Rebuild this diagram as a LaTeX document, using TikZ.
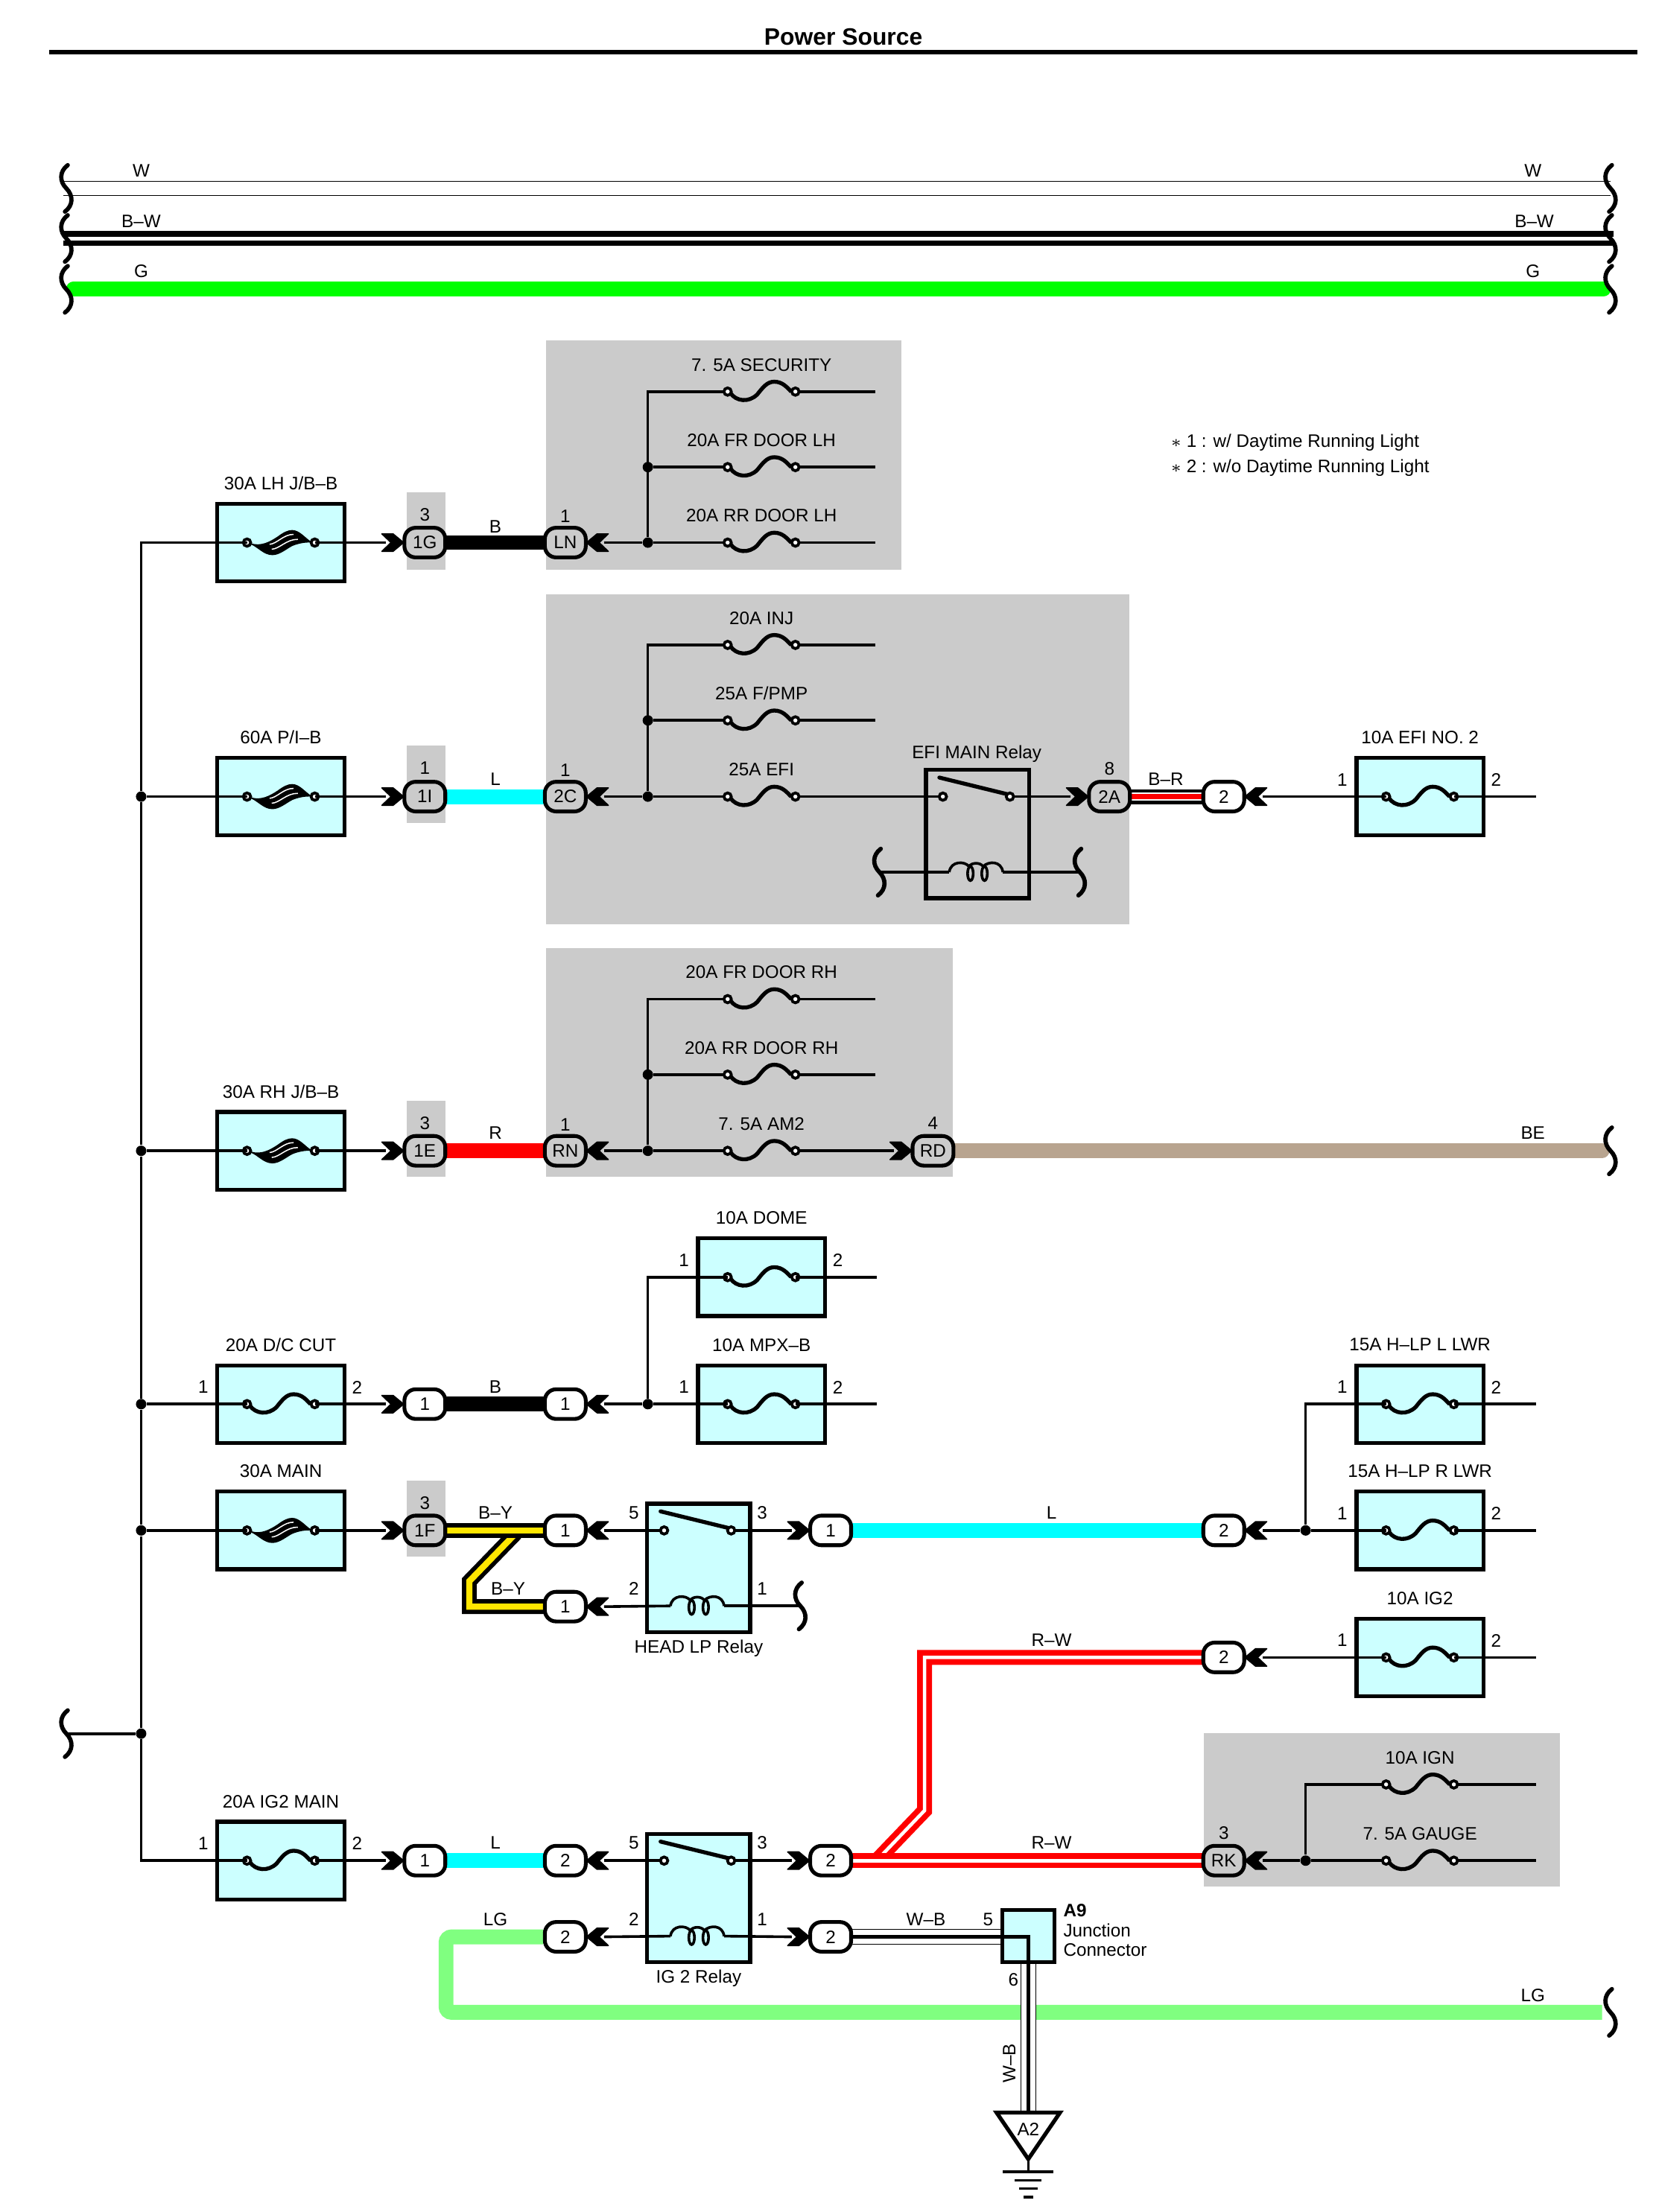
\documentclass[tikz,border=0pt]{standalone}
\usepackage{fontspec}
\setmainfont{Liberation Sans}
\pgfdeclarelayer{under}
\pgfsetlayers{under,main}
\definecolor{panelgray}{HTML}{CBCBCB}
\definecolor{boxblue}{HTML}{CCFFFF}
\definecolor{wiretan}{HTML}{B8A48F}
\definecolor{wirelg}{HTML}{80FF80}
\definecolor{wirecyan}{HTML}{00FFFF}
\definecolor{wiregreen}{HTML}{00FF00}
\definecolor{wirered}{HTML}{FF0000}
\definecolor{wireyellow}{HTML}{FFE600}
\tikzset{
  lbl/.style={font=\fontsize{6.4}{7.4}\selectfont,inner sep=0pt},
  titlelbl/.style={font=\fontsize{8.4}{10}\selectfont\bfseries,inner sep=0pt},
  wire/.style={line width=0.95pt,black},
  hvy/.style={line width=5.25pt,shorten <=-1pt,shorten >=-1pt},
  wireW/.style={draw=black,line width=5.4pt,shorten <=-1pt,postaction={draw=white,line width=4.8pt}},
  wireBW/.style={draw=black,hvy,postaction={draw=white,line width=1.4pt}},
  wireBY/.style={draw=black,hvy,postaction={draw=wireyellow,line width=2.2pt}},
  wireBR/.style={draw=black,hvy,postaction={draw=white,line width=2.7pt},postaction={draw=wirered,line width=1.7pt}},
  wireRW/.style={draw=wirered,hvy,postaction={draw=white,line width=1.2pt}},
  wireWB/.style={draw=black,line width=5.4pt,postaction={draw=white,line width=4.9pt},postaction={draw=black,line width=1.3pt}},
  fusebox/.style={draw,line width=1.4pt,fill=boxblue,minimum width=45pt,minimum height=27.5pt,inner sep=0pt},
  relaybox/.style={draw,line width=1.4pt,minimum width=36.5pt,minimum height=45.5pt,inner sep=0pt},
  plug/.style={draw,line width=1.35pt,rounded corners=4pt,minimum width=14.5pt,minimum height=10.5pt,inner sep=0pt,font=\fontsize{6.4}{7.4}\selectfont},
  dot/.style={circle,fill=black,inner sep=0pt,minimum size=3.7pt},
  fuse/.pic={
    \coordinate (-l) at (-24,0);
    \coordinate (-r) at (24,0);
    \draw[line width=1.4pt] (-22,1) .. controls (-18,7) and (-9,8) .. (-3,2) .. controls (1,-3) and (4,-7) .. (9,-7) .. controls (15,-7) and (18,-3) .. (21,0);
    \draw[line width=1pt,fill=white] (-24,0) circle [radius=2.6] (24,0) circle [radius=2.6];
  },
  link/.pic={
    \coordinate (-l) at (-24,0);
    \coordinate (-r) at (24,0);
    \filldraw[line width=0.4pt] (-21,1) .. controls (-14,3) and (-8,0) .. (-2,-4) .. controls (2,-7) and (5,-8.5) .. (8,-8.5) .. controls (13,-8.5) and (17,-3) .. (21,-0.5) .. controls (17,-0.5) and (13,0) .. (8,2) .. controls (4,4) and (-1,8.5) .. (-6,8.5) .. controls (-12,8.5) and (-16,3) .. (-21,1) -- cycle;
    \draw[white,line width=0.4pt] (-8,1.2) .. controls (-3,1) and (2,-6) .. (9,-5.8);
    \draw[white,line width=0.4pt] (-6.5,4.7) .. controls (-1,4.5) and (4,-2.5) .. (12,-2.3);
    \draw[line width=1pt,fill=white] (-24,0) circle [radius=2.6] (24,0) circle [radius=2.6];
  },
  chevr/.pic={
    \coordinate (-t) at (-13,0);
    \filldraw[line width=0.4pt,line join=round] (-16,-6.2) -- (-8,-6.2) -- (-0.5,0) -- (-8,6.2) -- (-16,6.2) -- (-9.5,0) -- cycle;
  },
  brk/.pic={
    \draw[line width=1.5pt,line cap=round] (1,-16.5) .. controls (-5,-12) and (-5,-5) .. (0,0) .. controls (5,5) and (5,12) .. (-1,16.5);
  },
  relayin/.pic={
    \coordinate (-a) at (-24.5,-26.5);
    \coordinate (-b) at (23,-26.5);
    \coordinate (-p) at (-20,27);
    \coordinate (-q) at (18,27);
    \draw[line width=1.4pt,line cap=round] (-27,-40) -- (22,-28);
    \draw[line width=1pt,fill=white] (-24.5,-26.5) circle [radius=2.6] (23,-26.5) circle [radius=2.6];
    \draw[line width=0.95pt] (-20,27) .. controls (-19,19) and (-9,19) .. (-6,23) .. controls (-4,20) and (2,20) .. (4,23) .. controls (8,19) and (17,19) .. (18,27);
    \draw[line width=0.95pt] (-5,28) ellipse [x radius=2,y radius=5];
    \draw[line width=0.95pt] (5,28) ellipse [x radius=2,y radius=5];
  },
}
\begin{document}
\begin{tikzpicture}[x=0.5pt,y=-0.5pt]
\useasboundingbox (0,0) rectangle (1175,1567.5);
\node[titlelbl] (title) at (597.5,26) {Power Source};
\draw[line width=1.5pt] (35,37) -- (1160,37);

\begin{pgfonlayer}{under}
\foreach \xa/\ya/\xb/\yb in {387/241/638.5/403.5, 387/421/800/655, 387/672/675/834, 853/1228/1105/1337, 288/349/315.5/403.5, 288/528.5/315.5/583, 288/780/315.5/834, 288/1049/315.5/1103}
  \fill[panelgray] (\xa,\ya) rectangle (\xb,\yb);
\foreach \n/\x/\y/\txt in {a/199/384.5/{30A LH J/B–B}, b/199/564.5/{60A P/I–B}, c/199/815.5/{30A RH J/B–B}, e/199/1084.5/{30A MAIN}}{
  \node[fusebox] (fb\n) at (\x,\y) {};
  \node[lbl] (ft\n) at (\x,{\y-42}) {\txt};
  \pic (fz\n) at (\x,\y) {link};
}
\foreach \n/\x/\y/\txt in {d/199/995/{20A D/C CUT}, f/199/1318.5/{20A IG2 MAIN}, g/539.5/905/{10A DOME}, h/539.5/995/{10A MPX–B}, i/1006/564.5/{10A EFI NO. 2}, j/1006/995/{15A H–LP L LWR}, k/1006/1084.5/{15A H–LP R LWR}, l/1006/1174.5/{10A IG2}}{
  \node[fusebox] (fb\n) at (\x,\y) {};
  \node[lbl] (ft\n) at (\x,{\y-42}) {\txt};
  \node[lbl] (fpa\n) at ({\x-55},{\y-12}) {1};
  \node[lbl] (fpb\n) at ({\x+54},{\y-12}) {2};
  \pic (fz\n) at (\x,\y) {fuse};
}
\node[relaybox] (ra) at (692.5,591) {};
\node[relaybox,fill=boxblue] (rb) at (495,1111) {};
\node[relaybox,fill=boxblue] (rc) at (495,1345) {};
\node[fusebox,minimum width=18.5pt,minimum height=18.5pt] (jc) at (728.5,1372) {};
\end{pgfonlayer}

\pic (rya) at (ra) {relayin};
\pic (ryb) at (rb) {relayin};
\pic (ryc) at (rc) {relayin};

\foreach \n/\x/\y/\txt in {pa/539.5/277.5/{7. 5A SECURITY}, pb/539.5/331/{20A FR DOOR LH}, pc/539.5/384.5/{20A RR DOOR LH}, pd/539.5/457/{20A INJ}, pe/539.5/510.5/{25A F/PMP}, pf/539.5/564.5/{25A EFI}, pg/539.5/708/{20A FR DOOR RH}, ph/539.5/761.5/{20A RR DOOR RH}, pi/539.5/815.5/{7. 5A AM2}, pj/1006/1264.5/{10A IGN}, pk/1006/1318.5/{7. 5A GAUGE}}{
  \node[lbl] (ft\n) at (\x,{\y-19}) {\txt};
  \pic (fz\n) at (\x,\y) {fuse};
}

\foreach \n/\x/\y/\txt/\s/\col in {gg/301/384.5/1G/1/panelgray, ln/400.5/384.5/LN/-1/panelgray, ii/301/564.5/1I/1/panelgray, cc/400.5/564.5/2C/-1/panelgray, aa/786/564.5/2A/1/panelgray, ee/301/815.5/1E/1/panelgray, rn/400.5/815.5/RN/-1/panelgray, rd/661/815.5/RD/1/panelgray, ff/301/1084.5/1F/1/panelgray, rk/867/1318.5/RK/-1/panelgray, br/867/564.5/2/-1/white, da/301/995/1/1/white, db/400.5/995/1/-1/white, ma/400.5/1084.5/1/-1/white, mb/400.5/1138.5/1/-1/white, ha/588.5/1084.5/1/1/white, hb/867/1084.5/2/-1/white, wa/867/1174.5/2/-1/white, sa/301/1318.5/1/1/white, sb/400.5/1318.5/2/-1/white, sc/588.5/1318.5/2/1/white, ta/400.5/1372.5/2/-1/white, tb/588.5/1372.5/2/1/white}{
  \node[plug,fill=\col] (\n) at (\x,\y) {\txt};
  \pic[xscale=\s] (ch\n) at ({\x-\s*14.5},\y) {chevr};
}

\node[dot] (va) at (100,564.5) {};
\node[dot] (vb) at (100,815.5) {};
\node[dot] (vc) at (100,995) {};
\node[dot] (vd) at (100,1084.5) {};
\node[dot] (ve) at (100,1228.5) {};
\node[dot] (ja) at (459,384.5) {};
\node[dot] (jb) at (459,331) {};
\node[dot] (jcc) at (459,564.5) {};
\node[dot] (jd) at (459,510.5) {};
\node[dot] (je) at (459,815.5) {};
\node[dot] (jf) at (459,761.5) {};
\node[dot] (jg) at (459,995) {};
\node[dot] (jh) at (925,1084.5) {};
\node[dot] (ji) at (925,1318.5) {};

\foreach \n/\y in {w/133.5,k/169,g/205}{
  \coordinate (busl\n) at (47,\y);
  \coordinate (busr\n) at (1141,\y);
  \pic at (busl\n) {brk};
  \pic at (busr\n) {brk};
}
\coordinate (lbot) at (47,1228.5);
\pic at (lbot) {brk};
\coordinate (rbe) at (1141,815.5);
\pic at (rbe) {brk};
\coordinate (rlg) at (1141,1426);
\pic at (rlg) {brk};
\coordinate (cla) at (623,618);
\pic at (cla) {brk};
\coordinate (clb) at (765,618);
\pic at (clb) {brk};
\coordinate (clc) at (567,1138);
\pic at (clc) {brk};

\begin{pgfonlayer}{under}
\draw[wireW] (buslw) -- (busrw);
\draw[wireBW] (buslk) -- (busrk);
\draw[wiregreen,line width=5.25pt,line cap=round] ([xshift=2.5]buslg) -- ([xshift=-2.5]busrg);
\draw[wire] (fza-l) -| (va);
\draw[wire] (va) -- (vb) -- (vc) -- (vd) -- (ve);
\draw[wire] (ve) |- (fzf-l);
\draw[wire] (lbot) -- (ve);
\draw[wire] (va) -- (fzb-l);
\draw[wire] (vb) -- (fzc-l);
\draw[wire] (vc) -- (fzd-l);
\draw[wire] (vd) -- (fze-l);
\draw[wire] (fza-r) -- (chgg-t);
\draw[wire] (fzb-r) -- (chii-t);
\draw[wire] (fzc-r) -- (chee-t);
\draw[wire] (fzd-r) -- (chda-t);
\draw[wire] (fze-r) -- (chff-t);
\draw[wire] (fzf-r) -- (chsa-t);
\draw[black,hvy] (gg.east) -- (ln.west);
\draw[wirecyan,hvy] (ii.east) -- (cc.west);
\draw[wirered,hvy] (ee.east) -- (rn.west);
\draw[black,hvy] (da.east) -- (db.west);
\draw[wirecyan,hvy] (sa.east) -- (sb.west);
\draw[wirecyan,hvy] (ha.east) -- (hb.west);
\draw[wiretan,line width=5.25pt,line cap=round] (rd.east) -- ([xshift=-3]rbe);
\draw[wireBR] (aa.east) -- (br.west);
\coordinate (bya) at (364,1088);
\coordinate (byb) at (332.5,1120.5);
\draw[wireBY] (bya) -- (byb) |- (mb.west);
\draw[wireBY] (ff.east) -- (ma.west);
\coordinate (rwa) at (655,1283);
\coordinate (rwb) at (621,1318.5);
\draw[wireRW] (wa.west) -| (rwa) -- (rwb);
\draw[wireRW] (sc.east) -- (rk.west);
\coordinate (lgb) at (316,1426);
\draw[wirelg,line width=5.25pt,rounded corners=2pt] (ta.west) -| (lgb) -- ([xshift=-3]rlg);
\coordinate (ga) at (728.5,1497);
\coordinate (jcl) at (jc.west |- tb);
\coordinate (jcm) at (jc.center |- tb);
\draw[wireWB,shorten <=-1pt] (tb.east) -- (jcl);
\draw[wireWB] (jc.south) -- (ga);
\draw[black,line width=1.3pt] (jcl) -- (jcm) -- (jc.south);
\foreach \n in {pa,pb,pc,pd,pe,pg,ph}
  \draw[wire] (fz\n-r) -- (fz\n-r -| 620,0);
\draw[wire] (fzpf-r) -- (rya-a);
\draw[wire] (rya-b) -- (chaa-t);
\draw[wire] (cla) -- (rya-p);
\draw[wire] (rya-q) -- (clb);
\draw[wire] (chln-t) -- (ja) -- (fzpc-l);
\draw[wire] (fzpa-l) -| (ja);
\draw[wire] (jb) -- (fzpb-l);
\draw[wire] (chcc-t) -- (jcc) -- (fzpf-l);
\draw[wire] (fzpd-l) -| (jcc);
\draw[wire] (jd) -- (fzpe-l);
\draw[wire] (chrn-t) -- (je) -- (fzpi-l);
\draw[wire] (fzpg-l) -| (je);
\draw[wire] (jf) -- (fzph-l);
\draw[wire] (fzpi-r) -- (chrd-t);
\draw[wire] (chdb-t) -- (jg) -- (fzh-l);
\draw[wire] (fzg-l) -| (jg);
\draw[wire] (fzg-r) -- (fzg-r -| 621,0);
\draw[wire] (fzh-r) -- (fzh-r -| 621,0);
\draw[wire] (chbr-t) -- (fzi-l);
\draw[wire] (fzi-r) -- (fzi-r -| 1088,0);
\draw[wire] (fzj-l) -| (jh);
\draw[wire] (chhb-t) -- (jh) -- (fzk-l);
\draw[wire] (fzj-r) -- (fzj-r -| 1088,0);
\draw[wire] (fzk-r) -- (fzk-r -| 1088,0);
\draw[wire] (chwa-t) -- (fzl-l);
\draw[wire] (fzl-r) -- (fzl-r -| 1088,0);
\draw[wire] (chma-t) -- (ryb-a);
\draw[wire] (ryb-b) -- (chha-t);
\draw[wire] (chmb-t) -- (ryb-p);
\draw[wire] (ryb-q) -- (clc);
\draw[wire] (chsb-t) -- (ryc-a);
\draw[wire] (ryc-b) -- (chsc-t);
\draw[wire] (chta-t) -- (ryc-p);
\draw[wire] (ryc-q) -- (chtb-t);
\draw[wire] (fzpj-l) -| (ji);
\draw[wire] (chrk-t) -- (ji) -- (fzpk-l);
\draw[wire] (fzpj-r) -- (fzpj-r -| 1088,0);
\draw[wire] (fzpk-r) -- (fzpk-r -| 1088,0);
\end{pgfonlayer}

\coordinate (gp) at (728.5,1530);
\coordinate (gs) at (728.5,1539);
\draw[line width=1.4pt] (706,1497) -- (751,1497) -- (gp) -- cycle;
\draw[wire] (gp) -- (gs);
\foreach \y/\w in {1539/18,1545/9.5,1551/6.5,1557/3.5}
  \draw[line width=0.9pt] ({728.5-\w},\y) -- ({728.5+\w},\y);
\node[lbl] (a2) at (728.5,1509) {A2};

\foreach \x/\y/\txt [count=\i] in {100/121/W, 100/157/B–W, 100/192/G, 1086/121/W, 1087/157/B–W, 1086/192/G, 351/373/B, 351/552/L, 826/552/B–R, 351/803/R, 1086/803/BE, 351/983/B, 351/1072/B–Y, 360/1126/B–Y, 745/1072/L, 745/1162/R–W, 745/1306/R–W, 351/1306/L, 351/1360/LG, 1086/1414/LG, 656/1360/W–B, 692/534/EFI MAIN Relay, 495/1168/HEAD LP Relay, 495/1402/IG 2 Relay, 301/365/3, 400.5/366/1, 301/544/1, 400.5/546/1, 786/545/8, 301/796/3, 400.5/797/1, 661/796/4, 301/1065/3, 867/1299/3, 449/1072/5, 540/1072/3, 449/1126/2, 540/1126/1, 449/1306/5, 540/1306/3, 449/1360/2, 540/1360/1, 700/1360/5, 718/1403/6}
  \node[lbl] (lb\i) at (\x,\y) {\txt};
\node[lbl,rotate=90] (wbv) at (715,1462) {W–B};
\node[lbl,anchor=west,font=\fontsize{6.4}{7.4}\selectfont\bfseries] (jca) at (753,1354) {A9};
\node[lbl,anchor=west] (jcb) at (753,1368) {Junction};
\node[lbl,anchor=west] (jcd) at (753,1382) {Connector};
\node[lbl,anchor=west] (nta) at (829,313.5) {\(\ast\) 1 : w/ Daytime Running Light};
\node[lbl,anchor=west] (ntb) at (829,331.5) {\(\ast\) 2 : w/o Daytime Running Light};
\end{tikzpicture}
\end{document}
